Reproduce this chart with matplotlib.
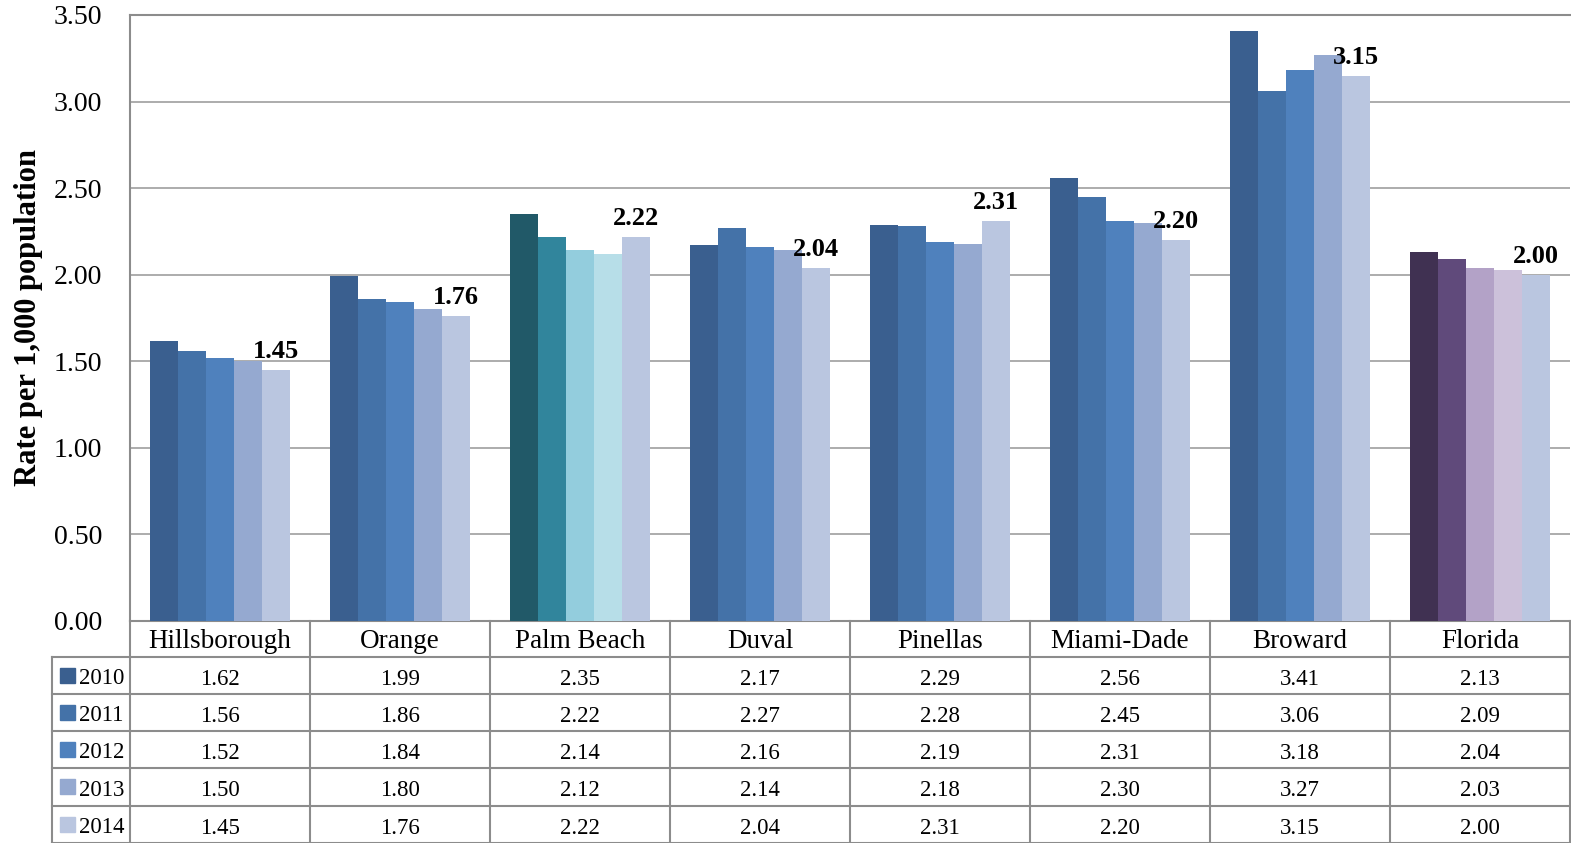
import matplotlib
matplotlib.use("Agg")
import matplotlib.pyplot as plt
from matplotlib.patches import Rectangle
from matplotlib.transforms import blended_transform_factory
import numpy as np

# data
counties = ['Hillsborough', 'Orange', 'Palm Beach', 'Duval', 'Pinellas',
            'Miami-Dade', 'Broward', 'Florida']
years = ['2010', '2011', '2012', '2013', '2014']
rates = {
    '2010': [1.62, 1.99, 2.35, 2.17, 2.29, 2.56, 3.41, 2.13],
    '2011': [1.56, 1.86, 2.22, 2.27, 2.28, 2.45, 3.06, 2.09],
    '2012': [1.52, 1.84, 2.14, 2.16, 2.19, 2.31, 3.18, 2.04],
    '2013': [1.50, 1.80, 2.12, 2.14, 2.18, 2.30, 3.27, 2.03],
    '2014': [1.45, 1.76, 2.22, 2.04, 2.31, 2.20, 3.15, 2.00],
}
yticks = [0.0, 0.5, 1.0, 1.5, 2.0, 2.5, 3.0, 3.5]

# colours
blues = ['#3A5F8F', '#4472A8', '#4F81BD', '#95A9D0', '#BAC6E0']
teals = ['#215968', '#31859C', '#93CDDD', '#B7DEE8', '#BAC6E0']
purples = ['#403152', '#604A7B', '#B3A2C7', '#CCC1DA', '#BAC6E0']
grid_col = '#A6A6A6'
line_col = '#8C8C8C'

plt.rcParams['font.family'] = ['Liberation Serif', 'DejaVu Serif']

W, H = 1571, 843
fig = plt.figure(figsize=(W / 100, H / 100), dpi=100)
ax = fig.add_axes([130 / W, 1 - 621 / H, 1440 / W, 606 / H])

x = np.arange(len(counties))
bw = 0.1545
for j, yr in enumerate(years):
    cols = []
    for i, c in enumerate(counties):
        if c == 'Palm Beach':
            cols.append(teals[j])
        elif c == 'Florida':
            cols.append(purples[j])
        else:
            cols.append(blues[j])
    ax.bar(x + (j - 2) * bw, rates[yr], width=bw, color=cols, zorder=3)

# labels on 2014 bars
for i, v in enumerate(rates['2014']):
    ax.annotate(f'{v:.2f}', (x[i] + 2 * bw, v), xytext=(0, 5),
                textcoords='offset points', ha='center', va='bottom',
                fontsize=19, fontweight='bold')

ax.set_xlim(-0.5, len(counties) - 0.5)
ax.set_ylim(0, 3.5)
ax.set_yticks(yticks)
ax.set_yticklabels([f'{t:.2f}' for t in yticks])
ax.tick_params(axis='y', length=0, pad=20, labelsize=20)
ax.set_xticks([])
ax.yaxis.grid(True, color=grid_col, linewidth=1.3, zorder=0)
for s in ['left', 'top', 'bottom']:
    ax.spines[s].set_color(line_col)
    ax.spines[s].set_linewidth(1.5)
ax.spines['right'].set_visible(False)
ax.set_ylabel('Rate per 1,000 population', fontsize=22, fontweight='bold',
              labelpad=8)

# data table below the plot
tr = blended_transform_factory(ax.transData, fig.transFigure)
def fy(py):
    return 1 - py / H

row_lines = [657, 694, 731, 768, 806, 843]
row_mid = [675.5, 712.5, 749.5, 787, 824.5]
for py in row_lines:
    fig.add_artist(plt.Line2D([52 / W, 1], [fy(py), fy(py)], color=line_col,
                              linewidth=1.5, transform=fig.transFigure))
fig.add_artist(plt.Line2D([52 / W, 52 / W], [fy(657), fy(843)], color=line_col,
                          linewidth=1.5, transform=fig.transFigure))
for b in np.arange(len(counties) + 1) - 0.5:
    fig.add_artist(plt.Line2D([b, b], [fy(621), fy(843)], color=line_col,
                              linewidth=1.5, transform=tr))

for i, c in enumerate(counties):
    fig.text(x[i], fy(641), c, transform=tr, ha='center', va='center',
             fontsize=19.5)
    for j, yr in enumerate(years):
        fig.text(x[i], fy(row_mid[j] + 4), f'{rates[yr][i]:.2f}', transform=tr,
                 ha='center', va='center', fontsize=16.5)

for j, yr in enumerate(years):
    fig.add_artist(Rectangle((60 / W, fy(row_mid[j] + 7)), 15 / W, 15 / H,
                             color=blues[j], transform=fig.transFigure))
    fig.text(79 / W, fy(row_mid[j] + 3), yr, ha='left', va='center',
             fontsize=16.5)

fig.savefig('out.png', dpi=100)
